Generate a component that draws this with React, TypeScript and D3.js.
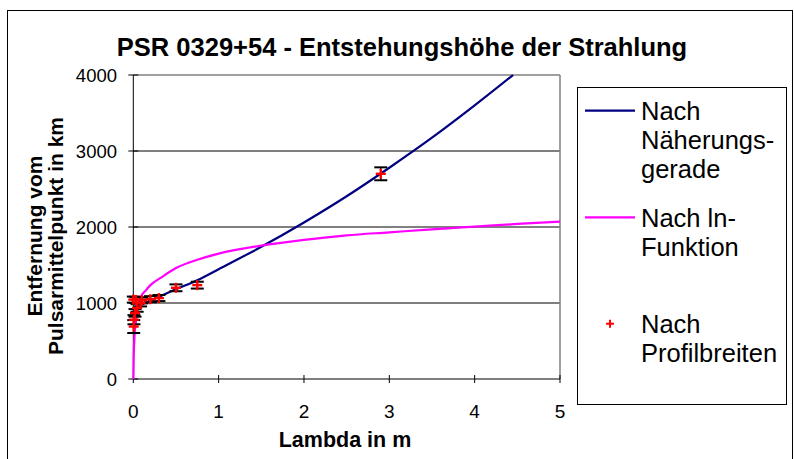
import React from "react";
import * as d3 from "d3";

// Series (lambda in m, distance in km)
const fitX = [0.02, 0.05, 0.25, 0.5, 0.75, 1.0, 1.5, 2.0, 2.5, 3.0, 3.5, 4.0, 4.45];
const fitY = [945, 960, 1055, 1180, 1300, 1445, 1740, 2060, 2405, 2780, 3175, 3600, 4000];

const lnX = [0.0016, 0.005, 0.013, 0.03, 0.085, 0.15, 0.2, 0.32, 0.5, 0.75, 1, 1.5, 2, 2.5, 3, 3.5, 4, 4.5, 5];
const lnY = [0, 290, 540, 750, 1070, 1170, 1235, 1330, 1460, 1570, 1650, 1755, 1830, 1890, 1930, 1970, 2005, 2040, 2070];

const profX = [0.005, 0.008, 0.02, 0.045, 0.085, 0.0, 0.03, 0.1, 0.2, 0.3, 0.5, 0.75, 2.9];
const profY = [690, 780, 870, 935, 1000, 1045, 1040, 1035, 1050, 1065, 1200, 1235, 2700];
const profErr = [85, 60, 50, 50, 45, 40, 40, 40, 40, 40, 45, 45, 85];

const xTicks = [0, 1, 2, 3, 4, 5];
const yTicks = [0, 1000, 2000, 3000, 4000];

const title = "PSR 0329+54 - Entstehungshöhe der Strahlung";
const xTitle = "Lambda in m";
const yTitleLines = ["Entfernung vom", "Pulsarmittelpunkt in km"];
const legendItems = [
  { lines: ["Nach", "Näherungs-", "gerade"], kind: "line", color: "#000080" },
  { lines: ["Nach ln-", "Funktion"], kind: "line", color: "#FF00FF" },
  { lines: ["Nach", "Profilbreiten"], kind: "marker", color: "#FF0000" },
];

const FONT = "'Liberation Sans', Arial, sans-serif";

export default function App() {
  const W = 794;
  const H = 459;
  const plot = { left: 133.3, right: 560, top: 75, bottom: 379 };

  const x = d3.scaleLinear().domain([0, 5]).range([plot.left, plot.right]);
  const y = d3.scaleLinear().domain([0, 4000]).range([plot.bottom, plot.top]);

  const fitPath = d3
    .line<number>()
    .curve(d3.curveMonotoneX)
    .x((_, i) => x(fitX[i]))
    .y((_, i) => y(fitY[i]))(fitX) as string;
  const lnPath = d3
    .line<number>()
    .curve(d3.curveMonotoneX)
    .x((_, i) => x(lnX[i]))
    .y((_, i) => y(lnY[i]))(lnX) as string;

  const cap = 6.5;
  const cross = 5;

  const legendTop = [120, 226.7, 333];
  const lineGap = 29;

  return (
    <svg
      width={W}
      height={H}
      style={{ position: "absolute", left: 0, top: 0, background: "#fff" }}
      fontFamily={FONT}
    >
      <rect x={0} y={0} width={W} height={H} fill="#fff" />
      {/* chart frame */}
      <rect x={7.5} y={10.5} width={785} height={470} fill="none" stroke="#000" strokeWidth={1} />

      <text x={402} y={56} textAnchor="middle" fontSize={25.5} fontWeight="bold">
        {title}
      </text>

      {/* gridlines */}
      {yTicks
        .filter((t) => t > 0 && t < 4000)
        .map((t) => (
          <line key={t} x1={plot.left} x2={plot.right} y1={y(t)} y2={y(t)} stroke="#000" strokeWidth={1} />
        ))}
      {/* plot border (top/right) */}
      <line x1={plot.left} x2={plot.right} y1={plot.top} y2={plot.top} stroke="#808080" strokeWidth={1.5} />
      <line x1={plot.right} x2={plot.right} y1={plot.top} y2={plot.bottom} stroke="#808080" strokeWidth={1.5} />

      {/* axes */}
      <line x1={plot.left} x2={plot.left} y1={plot.top} y2={plot.bottom} stroke="#000" strokeWidth={1} />
      <line x1={plot.left} x2={plot.right} y1={plot.bottom} y2={plot.bottom} stroke="#000" strokeWidth={1} />
      {yTicks.map((t) => (
        <g key={t}>
          <line x1={plot.left - 5} x2={plot.left + 5} y1={y(t)} y2={y(t)} stroke="#000" />
          <text x={117} y={y(t)} dy="0.36em" textAnchor="end" fontSize={18.5}>
            {t}
          </text>
        </g>
      ))}
      {xTicks.map((t) => (
        <g key={t}>
          <line x1={x(t)} x2={x(t)} y1={plot.bottom - 4} y2={plot.bottom + 4} stroke="#000" />
          <text x={x(t)} y={418} textAnchor="middle" fontSize={19}>
            {t}
          </text>
        </g>
      ))}

      <text x={345} y={447} textAnchor="middle" fontSize={21.5} fontWeight="bold">
        {xTitle}
      </text>
      {yTitleLines.map((s, i) => (
        <text
          key={s}
          transform={`translate(${42 + i * 21},236) rotate(-90)`}
          textAnchor="middle"
          fontSize={21}
          fontWeight="bold"
        >
          {s}
        </text>
      ))}

      {/* curves */}
      <path d={fitPath} fill="none" stroke="#000080" strokeWidth={2.2} />
      <path d={lnPath} fill="none" stroke="#FF00FF" strokeWidth={2.2} />

      {/* error bars */}
      {profX.map((px, i) => {
        const cx = x(px);
        const y1 = y(profY[i] + profErr[i]);
        const y2 = y(profY[i] - profErr[i]);
        return (
          <g key={"e" + i}>
            <line x1={cx} x2={cx} y1={y1} y2={y2} stroke="#000" strokeWidth={1.2} />
            <line x1={cx - cap} x2={cx + cap} y1={y1} y2={y1} stroke="#000" strokeWidth={2} />
            <line x1={cx - cap} x2={cx + cap} y1={y2} y2={y2} stroke="#000" strokeWidth={2} />
          </g>
        );
      })}
      {/* markers */}
      {profX.map((px, i) => {
        const cx = x(px);
        const cy = y(profY[i]);
        return (
          <g key={"m" + i} stroke="#FF0000" strokeWidth={2.4}>
            <line x1={cx - cross} x2={cx + cross} y1={cy} y2={cy} />
            <line x1={cx} x2={cx} y1={cy - cross} y2={cy + cross} />
          </g>
        );
      })}

      {/* legend */}
      <rect x={577.5} y={87.5} width={209} height={317} fill="#fff" stroke="#000" strokeWidth={1} />
      {legendItems.map((item, k) => {
        const base = legendTop[k];
        const my = base - 9.3;
        return (
          <g key={k}>
            {item.kind === "line" ? (
              <line x1={585} x2={635} y1={my} y2={my} stroke={item.color} strokeWidth={2.2} />
            ) : (
              <g stroke={item.color} strokeWidth={2}>
                <line x1={606} x2={614} y1={my} y2={my} />
                <line x1={610} x2={610} y1={my - 4} y2={my + 4} />
              </g>
            )}
            {item.lines.map((s, j) => (
              <text key={j} x={641} y={base + j * lineGap} fontSize={25.5}>
                {s}
              </text>
            ))}
          </g>
        );
      })}
    </svg>
  );
}
